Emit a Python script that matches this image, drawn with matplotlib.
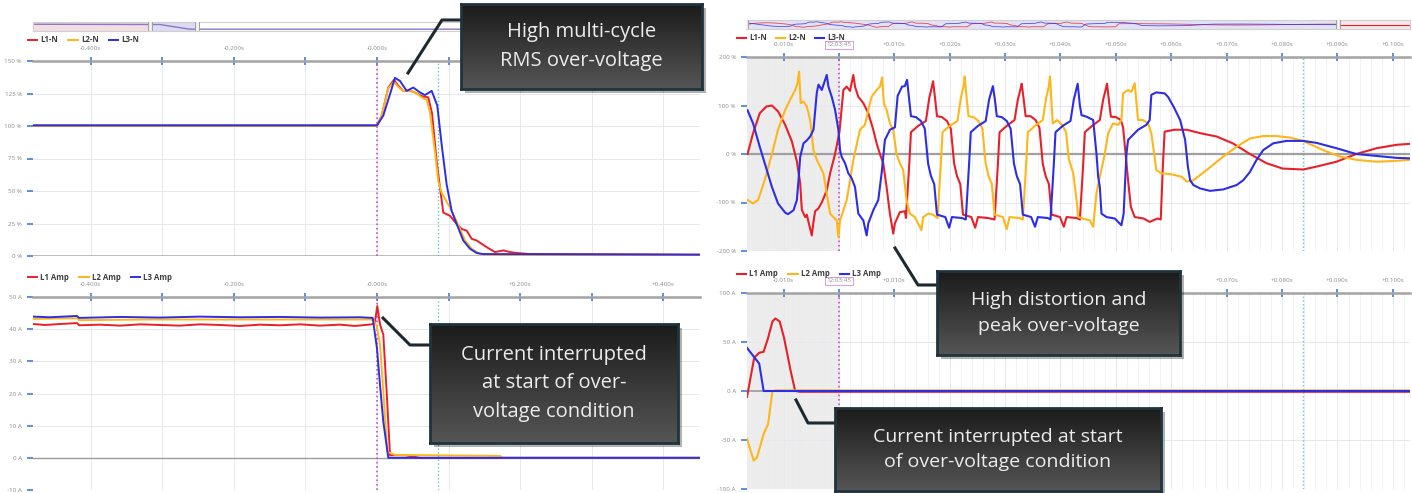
import numpy as np
import matplotlib.pyplot as plt
from matplotlib.lines import Line2D
from matplotlib.patches import Rectangle
from matplotlib.colors import LinearSegmentedColormap

plt.rcParams['font.family'] = ['Open Sans', 'DejaVu Sans']

W, H = 1412, 493
RED = '#e8202a'
YEL = '#ffb619'
BLU = '#2d2de6'
TICK_BLUE = '#3f7fd6'

# ---------------- left top: multi-cycle RMS voltage (% nominal), time in s
rms_t_l1 = [-0.48, 0.000, 0.0066, 0.0158, 0.0237, 0.0297, 0.0367, 0.0461, 0.0531, 0.0624, 0.0716,
            0.0768, 0.0834, 0.0880, 0.0926, 0.1020, 0.1113, 0.1183, 0.1253, 0.1323, 0.1392, 0.1532,
            0.1648, 0.1764, 0.1858, 0.1951, 0.2137, 0.451]
rms_v_l1 = [100.3, 100.3, 108, 129.6, 135.5, 131, 127, 127, 125.8, 123, 122,
            110, 72.7, 52.4, 33.4, 30.9, 24.6, 20.8, 19.5, 13.2, 11.9, 6.8,
            3.0, 4.3, 3.0, 2.3, 1.5, 1.0]
rms_t_l2 = [-0.48, 0.000, 0.0066, 0.0158, 0.0237, 0.0297, 0.0367, 0.0461, 0.0531, 0.0624, 0.0694,
            0.0740, 0.0810, 0.0856, 0.0904, 0.1020, 0.1113, 0.1229, 0.1323, 0.1439, 0.1718, 0.451]
rms_v_l2 = [100.1, 100.1, 108, 129, 134, 130, 127, 127, 126, 122, 120,
            110.6, 80, 57.5, 48.6, 37.2, 26.6, 12, 5.6, 1.5, 0.3, 0.8]
rms_t_l3 = [-0.48, 0.000, 0.0088, 0.0182, 0.0251, 0.0321, 0.0415, 0.0507, 0.0601, 0.0670, 0.0764,
            0.0842, 0.0904, 0.0973, 0.1043, 0.1113, 0.1205, 0.1299, 0.1392, 0.1485, 0.451]
rms_v_l3 = [100.5, 100.5, 108, 124.5, 137, 134.7, 127, 129.6, 125.8, 123.8, 127,
            115.7, 85.3, 55, 34.7, 24.6, 11.9, 5.6, 2.3, 1.5, 1.0]

# ---------------- left bottom: RMS current (A), time in s
amp_t_l1 = [-0.480, -0.4637, -0.4427, -0.419, -0.4162, -0.3869, -0.3589, -0.331, -0.3031, -0.2751,
            -0.2472, -0.2193, -0.1913, -0.1634, -0.1355, -0.1075, -0.0796, -0.0517, -0.0307, -0.0168,
            -0.007, -0.003, 0.0004, 0.0042, 0.0088, 0.0135, 0.0182, 0.039, 0.053, 0.06, 0.451]
amp_v_l1 = [41.6, 41.3, 41.6, 41.9, 41.2, 41.4, 41.1, 41.5, 41.3, 41.1,
            41.5, 41.3, 41.0, 41.4, 41.2, 41.5, 41.1, 41.4, 41.0, 41.3,
            41.5, 42.0, 47.2, 41.5, 38.3, 20.6, 0.8, 0.8, 0.3, 0.0, 0.0]
amp_t_l2 = [-0.480, -0.419, -0.4162, -0.317, -0.1774, -0.0098, -0.005, -0.0004, 0.0042, 0.0088,
            0.0144, 0.025, 0.172, 0.175, 0.451]
amp_v_l2 = [43.2, 43.4, 42.8, 43.0, 43.0, 43.0, 42.8, 41.0, 35.2, 20.6,
            1.9, 0.9, 0.6, 0.0, 0.0]
amp_t_l3 = [-0.480, -0.4567, -0.419, -0.4162, -0.3589, -0.3031, -0.2472, -0.1913, -0.1355, -0.0796,
            -0.0237, -0.006, 0.000, 0.0042, 0.0088, 0.0158, 0.451]
amp_v_l3 = [43.9, 43.7, 44.1, 43.5, 43.8, 43.6, 43.9, 43.7, 43.8, 43.6,
            43.7, 43.5, 34.0, 22.7, 11.3, 0.0, 0.0]

# ---------------- right top: voltage waveforms (% nominal), time in ms
wave_t_l1 = [-16.5, -15.5, -14.3, -13.1, -12.1, -11.0, -9.7, -8.5, -7.6, -7.0, -6.7, -6.1, -5.8, -5.5,
             -4.9, -4.6, -4.3, -3.7, -3.1, -2.2, -1.6, -0.7, 0.1, 0.8, 1.4, 2.0, 2.6, 2.9, 3.5, 4.4,
             5.3, 6.2, 6.8, 7.4, 8.0, 8.6, 9.2, 9.8, 10.1, 11.0, 11.9,
             12.1, 12.7, 13.0, 14.3, 15.7, 16.3, 16.8, 17.0, 17.4, 17.7, 18.6, 19.5, 20.2, 20.8,
             21.3, 21.9, 22.4, 23.9, 24.6, 25.1, 26.9,
             28.1, 28.7, 29.0, 30.3, 31.7, 32.3, 32.8, 33.0, 33.4, 33.7, 34.6, 35.5, 36.2, 36.8,
             37.3, 37.9, 38.4, 39.9, 40.6, 41.1, 42.9,
             43.5, 44.1, 44.4, 45.7, 47.1, 47.7, 48.2, 48.4, 48.8, 49.1, 50.0, 50.9, 51.3, 52.2,
             52.7, 53.4, 55.0, 56.1, 57.5, 58.1, 58.5, 58.8, 60.5, 62.8, 65.2, 68.2, 71.1, 74.2,
             77.2, 80.1, 83.8, 86.2, 89.8, 93.4, 97.1, 100.7, 103.1]
wave_v_l1 = [0, 43, 84, 98, 100, 88, 60, 26, -15, -60, -115, -130, -125, -140,
             -168, -140, -118, -112, -100, -75, -40, 0, 46, 132, 139, 130, 163, 139, 118, 105,
             84, 50, 22, 0, -19, -68, -123, -164, -143, -120, -118,
             -132, -20, 45, 58, 68, 115, 140, 150, 110, 78, 76, 68, 52, -20,
             -45, -62, -125, -130, -152, -130, -132,
             -135, -20, 45, 58, 70, 112, 135, 145, 108, 78, 78, 70, 54, -20,
             -45, -62, -125, -130, -150, -130, -132,
             -135, -20, 45, 58, 70, 112, 135, 145, 105, 77, 76, 70, 55, -54,
             -109, -130, -133, -140, -133, -135, -20, 46, 50, 50, 43, 36, 22, 0,
             -19, -30, -32, -26, -16, 0, 12, 19, 21]

wave_t_l2 = [-16.5, -15.5, -14.6, -13.4, -12.1, -11.0, -9.7, -8.8, -7.9, -7.5, -7.2, -6.9, -6.4, -5.8,
             -5.2, -4.6, -4.0, -3.4, -2.8, -2.2, -1.6, -1.0, -0.4, -0.1, 0.2, 0.8, 1.4, 2.0, 2.6,
             3.8, 4.7, 5.3, 5.9, 6.8, 7.4, 7.8, 8.1, 8.6, 9.2, 9.8, 10.4, 11.0, 11.6, 12.2, 12.8,
             13.7, 14.9, 15.2, 16.1, 17.0,
             17.8, 18.4, 18.7, 20.0, 21.4, 22.0, 22.5, 22.7, 23.1, 23.4, 24.3, 25.2, 25.9, 26.5,
             27.0, 27.6, 28.1, 29.6, 30.3, 30.8, 32.6,
             33.2, 33.8, 34.1, 35.4, 36.8, 37.4, 37.9, 38.1, 38.6, 39.4, 40.3, 41.0, 41.5, 42.3,
             42.9, 43.2, 44.1, 45.3, 45.9, 46.5, 47.1, 48.0, 48.6, 49.5, 50.4, 51.0, 51.3, 52.2,
             52.8, 53.4, 54.0, 54.9, 55.8, 56.4, 57.3, 58.2, 59.7, 61.9, 62.8, 64.0, 66.4, 69.4,
             71.8, 74.2, 76.6, 79.0, 81.4, 83.8, 87.4, 90.4, 93.4, 97.1, 100.7, 103.1]
wave_v_l2 = [-95, -102, -95, -54, 0, 50, 91, 112, 132, 146, 170, 105, 108, 98,
             70, 8, -12, -26, -40, -81, -123, -130, -137, -172, -137, -116, -95, -54, -12,
             50, 60, 91, 118, 132, 139, 158, 105, 91, 63, 50, 0, -19, -33, -95, -123,
             -130, -157, -130, -123, -125,
             -132, -20, 45, 58, 68, 115, 140, 160, 110, 78, 76, 68, 52, -20,
             -45, -62, -125, -130, -155, -130, -132,
             -135, -20, 45, 58, 70, 115, 140, 160, 63, 70, 60, 45, -10, -40,
             -95, -130, -133, -137, -150, -81, -47, 0, 43, 63, 60, 70, 125, 132,
             128, 146, 70, 70, 63, 43, -33, -40, -41, -47, -57, -54, -33, -5,
             15, 32, 37, 37, 34, 27, 8, -5, -12, -16, -14, -12]

wave_t_l3 = [-16.5, -15.5, -14.3, -13.4, -12.1, -11.0, -9.7, -9.2, -8.2, -7.6, -7.3, -7.0, -6.4, -5.8,
             -5.2, -4.6, -4.0, -3.7, -3.1, -2.7, -2.2, -1.9, -1.3, -0.7, -0.1, 0.2, 0.5, 1.1, 1.7,
             2.3, 2.9, 3.5, 4.4, 5.0, 5.3, 6.2, 7.1, 7.7, 8.3, 9.2, 10.1, 10.6, 11.4, 11.9, 12.3,
             12.7, 13.0, 13.9, 14.8, 15.5, 16.1, 16.6, 17.2, 17.7, 19.2, 19.9, 20.4, 22.2,
             22.9, 23.5, 23.8, 25.1, 26.5, 27.1, 27.6, 27.8, 28.2, 28.5, 29.4, 30.3, 31.0, 31.6,
             32.1, 32.7, 33.2, 34.7, 35.4, 35.9, 37.7,
             38.2, 38.8, 39.1, 40.4, 41.8, 42.4, 42.9, 43.1, 43.5, 43.8, 44.7, 45.9, 46.5, 46.8,
             47.1, 47.4, 48.3, 49.8, 51.0, 51.4, 51.9, 52.2, 54.0, 55.5, 56.1, 56.4, 57.3, 58.8,
             59.4, 60.4, 61.6, 62.5, 63.0, 63.4, 64.0, 65.2, 67.0, 69.4, 71.8, 73.0, 74.2, 75.4,
             76.6, 78.4, 80.8, 83.8, 86.2, 89.8, 93.4, 97.1, 100.7, 103.1]
wave_v_l3 = [90, 63, 15, -19, -68, -102, -121, -124, -116, -95, -54, -6, 22, 28,
             36, 50, 126, 143, 132, 146, 163, 139, 118, 91, 50, 8, -6, -19, -40,
             -50, -68, -123, -137, -168, -143, -116, -95, -40, 29, 50, 55, 120, 139, 140, 153,
             110, 78, 76, 68, 52, -20, -45, -62, -125, -130, -152, -130, -132,
             -135, -20, 45, 58, 68, 112, 132, 140, 108, 78, 76, 68, 52, -20,
             -45, -62, -125, -130, -150, -130, -132,
             -135, -20, 45, 58, 68, 112, 135, 145, 100, 80, 77, 70, 0, -47,
             -68, -123, -130, -133, -147, -123, 0, 29, 50, 60, 70, 122, 127, 125,
             118, 98, 70, 29, -26, -54, -64, -71, -76, -73, -64, -54, -37, -12,
             8, 22, 27, 27, 23, 12, 0, -4, -8, -9]

# ---------------- right bottom: current waveforms (A), time in ms
cur_t_l1 = [-16.6, -15.3, -14.4, -13.6, -12.8, -12.0, -11.5, -10.7, -9.9, -8.7, -7.9, -7.0, 103.1]
cur_v_l1 = [-6, 34, 39, 40, 54, 71, 74, 71, 54, 20, 0, -0.8, -0.8]
cur_t_l2 = [-16.6, -15.4, -14.8, -13.6, -12.8, -12.0, -11.5, 103.1]
cur_v_l2 = [-49, -71, -68, -44, -34, 0, 0.6, 0.6]
cur_t_l3 = [-16.6, -14.4, -13.6, 103.1]
cur_v_l3 = [44, 28, 0, 0]

# navigator overview strips
nav_rms_pos = [0.0, 0.19, 0.235, 1.0]
nav_rms_val = [0.75, 0.72, 0.2, 0.2]
nav_tail_t = [103.1, 117.6]
nav_tail_v = [0, 0]

left_ticks = [-0.4, -0.3, -0.2, -0.1, 0.0, 0.1, 0.2, 0.3, 0.4]
left_labels = ['-0.400s', '', '-0.200s', '', '-0.000s', '', '+0.200s', '', '+0.400s']
# in the upper left panel the last two labels sit behind the callout box
left_labels_top = left_labels[:6] + ['', '', '']
right_ticks = [-10, 0, 10, 20, 30, 40, 50, 60, 70, 80, 90, 100]
right_labels = ['-0.010s', '12:03:45'] + ['+%.3fs' % (v / 1000) for v in right_ticks[2:]]

fig = plt.figure(figsize=(W / 100, H / 100), dpi=100)


def fx(x):
    return x / W


def fy(y):
    return 1 - y / H


def px_axes(x0, y0, x1, y1, z=1):
    return fig.add_axes([fx(x0), fy(y1), (x1 - x0) / W, (y1 - y0) / H], zorder=z)


def style(ax, xlim, ylim, xticks, xlabels, yticks, ylabels, xminor=None):
    ax.set_xlim(xlim)
    ax.set_ylim(ylim)
    for side in ('left', 'right', 'bottom'):
        ax.spines[side].set_visible(False)
    ax.spines['top'].set_color('#a3a3a3')
    ax.spines['top'].set_linewidth(1.8)
    ax.xaxis.tick_top()
    ax.set_xticks(xticks)
    ax.set_xticklabels(xlabels)
    ax.tick_params(axis='x', which='major', direction='inout', length=6, width=1.2,
                   color=TICK_BLUE, labelsize=4.5, labelcolor='#8c8c8c', pad=4)
    ax.set_yticks(yticks)
    ax.set_yticklabels(ylabels)
    ax.tick_params(axis='y', direction='out', length=4, width=1.2, color=TICK_BLUE,
                   labelsize=4.5, labelcolor='#8c8c8c', pad=4)
    if xminor is not None:
        ax.set_xticks(xminor, minor=True)
        ax.tick_params(axis='x', which='minor', length=0)
        ax.grid(True, which='minor', axis='x', color='#eef0f4', lw=0.6)
    ax.grid(True, which='major', color='#e5e8ed', lw=0.7)
    ax.set_axisbelow(True)


def legend(ax, lines, labels, x, y, gap):
    leg = ax.legend(lines, labels, loc='center left', bbox_to_anchor=(fx(x), fy(y)),
                    bbox_transform=fig.transFigure, ncol=3, frameon=False, fontsize=5.6,
                    handlelength=1.2, handletextpad=0.4, columnspacing=gap,
                    borderaxespad=0, borderpad=0)
    for t in leg.get_texts():
        t.set_fontweight('bold')
        t.set_color('#3c3c3c')


# ---------- left top
ax1 = px_axes(33, 61, 700, 256)
style(ax1, (-0.4804, 0.4511), (0, 150), left_ticks, left_labels_top,
      [0, 25, 50, 75, 100, 125, 150], ['0 %', '25 %', '50 %', '75 %', '100 %', '125 %', '150 %'])
ax1.axhline(0, color='#a8a8a8', lw=1.8)
ax1.axvline(0, color='#c94fc9', ls=':', lw=1.2)
ax1.axvline(0.0852, color='#5cc8c8', ls=':', lw=1.0)
a, = ax1.plot(rms_t_l1, rms_v_l1, color=RED, lw=1.4)
b, = ax1.plot(rms_t_l2, rms_v_l2, color=YEL, lw=1.4)
c, = ax1.plot(rms_t_l3, rms_v_l3, color=BLU, lw=1.4)
legend(ax1, [a, b, c], ['L1-N', 'L2-N', 'L3-N'], 28, 40, 1.3)

# ---------- left bottom
ax2 = px_axes(33, 297, 700, 490)
style(ax2, (-0.4804, 0.4511), (-10, 50), left_ticks, left_labels,
      [-10, 0, 10, 20, 30, 40, 50], ['-10 A', '0 A', '10 A', '20 A', '30 A', '40 A', '50 A'])
ax2.axhline(0, color='#9c9c9c', lw=1.0)
ax2.axvline(0, color='#c94fc9', ls=':', lw=1.2)
ax2.axvline(0.0852, color='#5cc8c8', ls=':', lw=1.0)
a, = ax2.plot(amp_t_l1, amp_v_l1, color=RED, lw=1.4)
b, = ax2.plot(amp_t_l2, amp_v_l2, color=YEL, lw=1.4)
c, = ax2.plot(amp_t_l3, amp_v_l3, color=BLU, lw=1.4)
legend(ax2, [a, b, c], ['L1 Amp', 'L2 Amp', 'L3 Amp'], 28, 277, 1.3)

# ---------- right top
minor = np.arange(-16, 104, 2)
ax3 = px_axes(747, 57, 1410, 251)
style(ax3, (-16.6, 103.1), (-200, 200), right_ticks, right_labels,
      [-200, -100, 0, 100, 200], ['-200 %', '-100 %', '0 %', '100 %', '200 %'], minor)
ax3.axvspan(-16.6, 0, color='#ececec', zorder=0.5)
ax3.axhline(0, color='#a0a0a0', lw=1.6)
ax3.axvline(0, color='#c94fc9', ls=':', lw=1.2)
ax3.axvline(83.8, color='#5cc8c8', ls=':', lw=1.0)
a, = ax3.plot(wave_t_l1, wave_v_l1, color=RED, lw=1.5)
b, = ax3.plot(wave_t_l2, wave_v_l2, color=YEL, lw=1.5)
c, = ax3.plot(wave_t_l3, wave_v_l3, color=BLU, lw=1.5)
legend(ax3, [a, b, c], ['L1-N', 'L2-N', 'L3-N'], 737, 38, 1.1)

# ---------- right bottom
ax4 = px_axes(747, 293, 1410, 489)
style(ax4, (-16.6, 103.1), (-100, 100), right_ticks, right_labels,
      [-100, -50, 0, 50, 100], ['-100 A', '-50 A', '0 A', '50 A', '100 A'], minor)
ax4.axvspan(-16.6, 0, color='#ececec', zorder=0.5)
ax4.axhline(0, color='#a0a0a0', lw=1.3)
ax4.axvline(0, color='#c94fc9', ls=':', lw=1.2)
ax4.axvline(83.8, color='#5cc8c8', ls=':', lw=1.0)
a, = ax4.plot(cur_t_l1, cur_v_l1, color=RED, lw=1.5)
b, = ax4.plot(cur_t_l2, cur_v_l2, color=YEL, lw=1.5)
c, = ax4.plot(cur_t_l3, cur_v_l3, color=BLU, lw=1.5)
legend(ax4, [a, b, c], ['L1 Amp', 'L2 Amp', 'L3 Amp'], 737, 274, 1.3)

for ax in (ax3, ax4):
    ax.get_xticklabels()[1].set_bbox(dict(boxstyle='square,pad=0.25', fc='white',
                                          ec='#d88ad8', lw=0.6))

# ---------- navigator strips
nv1 = px_axes(33, 22, 700, 31)
nv1.set_xlim(0, 1)
nv1.set_ylim(0, 1)
nv1.axvspan(0, 0.175, color='#f3dde3')
nv1.axvspan(0.175, 0.246, color='#dcdaf5')
nv1.plot(nav_rms_pos, nav_rms_val, color='#8a78c8', lw=1.0)
nv2 = px_axes(746, 20, 1410, 29)
nv2.set_xlim(-16.6, 117.6)
nv2.set_ylim(-260, 260)
nv2.axvspan(-16.6, 103.1, color='#e2e1f5')
nv2.axvspan(103.1, 117.6, color='#f4e6ea')
nv2.plot(wave_t_l1, wave_v_l1, color=RED, lw=0.6, alpha=0.8)
nv2.plot(wave_t_l3, wave_v_l3, color=BLU, lw=0.6, alpha=0.8)
nv2.plot(nav_tail_t, nav_tail_v, color=RED, lw=0.8)
for nv, hx in ((nv1, (0.175, 0.246)), (nv2, (-16.6, 103.1))):
    nv.set_xticks([])
    nv.set_yticks([])
    for s in nv.spines.values():
        s.set_color('#d0d0d0')
        s.set_linewidth(0.8)
    for h in hx:
        nv.axvline(h, color='#a0a0a0', lw=3.5, zorder=3)
        nv.axvline(h, color='#f4f4f4', lw=2.0, zorder=4)

# ---------- callouts
shade = LinearSegmentedColormap.from_list('shade', ['#1b1b1b', '#555555'])


def callout(x0, y0, x1, y1, text, path, size=14.5):
    fig.add_artist(Rectangle((fx(x0 + 4), fy(y1 + 4)), (x1 - x0) / W, (y1 - y0) / H,
                             transform=fig.transFigure, fc='black', alpha=0.3, ec='none', zorder=8))
    fig.add_artist(Line2D([fx(p[0]) for p in path], [fy(p[1]) for p in path],
                          transform=fig.transFigure, color='#1c2a30', lw=2.2, zorder=8.5))
    bx = px_axes(x0, y0, x1, y1, z=9)
    bx.imshow(np.linspace(0, 1, 64).reshape(-1, 1), cmap=shade, aspect='auto', extent=(0, 1, 0, 1))
    bx.set_xticks([])
    bx.set_yticks([])
    for s in bx.spines.values():
        s.set_color('#1f333d')
        s.set_linewidth(2)
    bx.text(0.5, 0.5, text, ha='center', va='center', color='#ececec', fontsize=size,
            linespacing=1.55, transform=bx.transAxes)


callout(461, 4, 702, 89, 'High multi-cycle\nRMS over-voltage', [(408, 73), (442, 20), (461, 20)])
callout(430, 324, 678, 443, 'Current interrupted\nat start of over-\nvoltage condition',
        [(383, 318), (410, 345), (430, 345)])
callout(937, 271, 1180, 355, 'High distortion and\npeak over-voltage',
        [(895, 248), (918, 285), (937, 285)], 14)
callout(835, 408, 1161, 491, 'Current interrupted at start\nof over-voltage condition',
        [(796, 400), (808, 423), (835, 423)], 14)

fig.savefig('out.png', dpi=100)
